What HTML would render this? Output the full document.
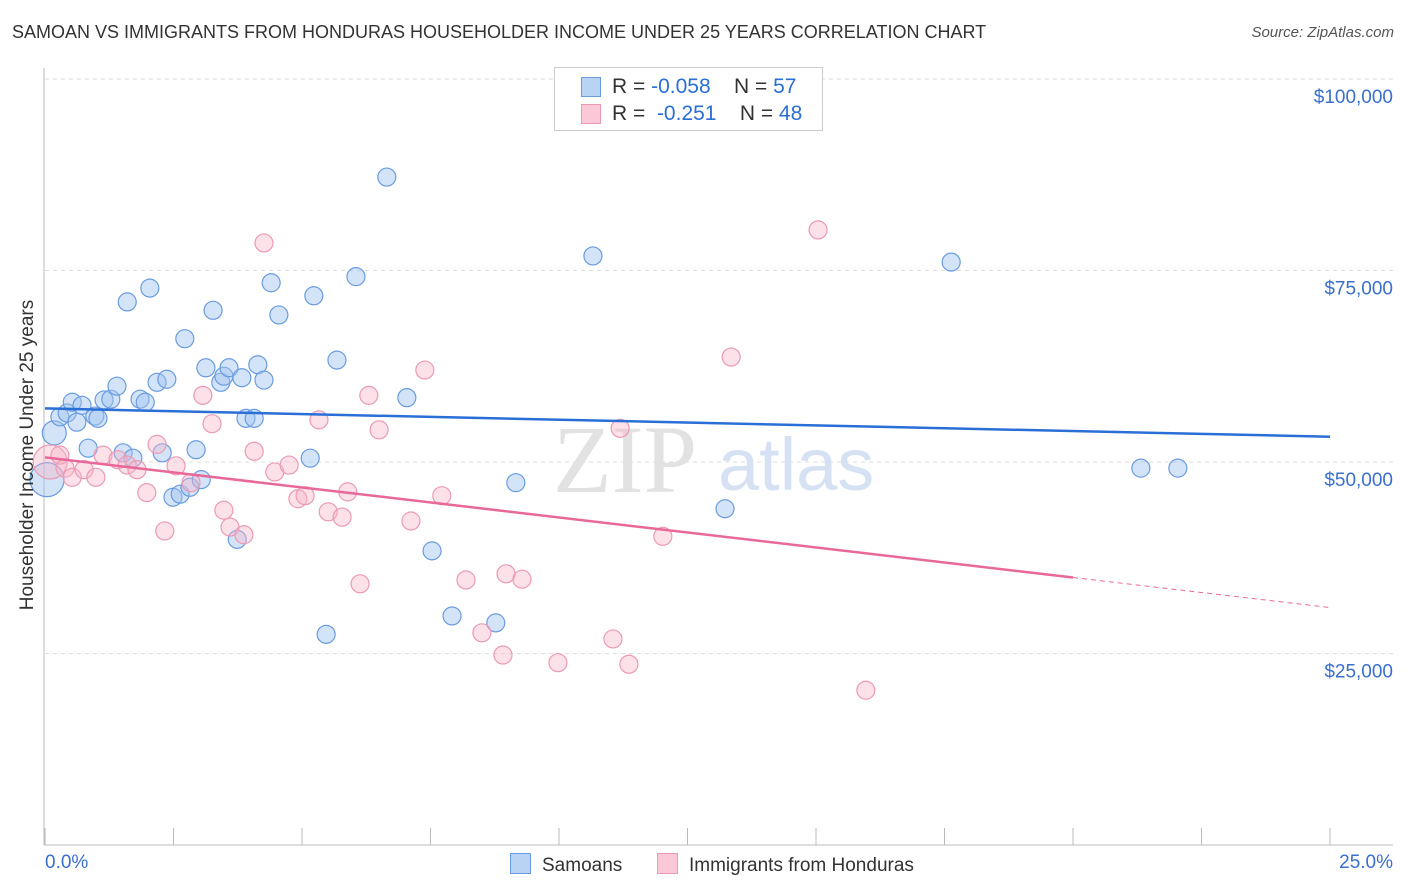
<!DOCTYPE html>
<html><head><meta charset="utf-8"><style>
body{margin:0;background:#fff;font-family:"Liberation Sans",sans-serif;}
#wrap{position:relative;width:1406px;height:892px;overflow:hidden;}
.t{position:absolute;white-space:nowrap;}
</style></head><body>
<div id="wrap">
<div class="t" style="left:12px;top:22px;font-size:18px;color:#333;">SAMOAN VS IMMIGRANTS FROM HONDURAS HOUSEHOLDER INCOME UNDER 25 YEARS CORRELATION CHART</div>
<div class="t" style="right:12px;top:24px;font-size:15px;color:#555;font-style:italic;">Source: ZipAtlas.com</div>
<svg id="svg" width="1406" height="892" style="position:absolute;left:0;top:0"></svg>
</div>
<script>
const xTicks=[0,2.5,5,7.5,10,12.5,15,17.5,20,22.5,25];
const yTicks=[25000,50000,75000,100000];
const yTickLabels=["$25,000","$50,000","$75,000","$100,000"];
const blueX=[0.18,0.04,0.29,0.43,0.53,0.62,0.72,0.97,1.03,0.84,1.15,1.28,1.40,1.52,1.60,1.71,1.85,1.95,2.04,2.18,2.28,2.37,2.49,2.63,2.72,2.82,2.94,3.04,3.13,3.27,3.42,3.48,3.58,3.74,3.83,3.91,4.07,4.14,4.26,4.40,4.55,5.16,5.23,5.47,5.68,6.05,6.65,7.04,7.53,7.92,8.77,9.16,10.66,13.23,17.63,21.32,22.04];
const blueY=[53.8,47.7,55.9,56.4,57.8,55.2,57.4,56.0,55.7,51.8,58.1,58.2,59.9,51.2,70.9,50.5,58.2,57.8,72.7,60.4,51.2,60.8,45.4,45.8,66.1,46.7,51.6,47.7,62.3,69.8,60.4,61.2,62.3,39.9,61.0,55.7,55.7,62.7,60.7,73.4,69.2,50.5,71.7,27.5,63.3,74.2,87.2,58.4,38.4,29.9,29.0,47.3,76.9,43.9,76.1,49.2,49.2];
const pinkX=[0.10,0.29,0.39,0.53,0.76,0.99,1.13,1.42,1.60,1.79,1.98,2.18,2.33,2.55,2.84,3.07,3.25,3.48,3.60,3.87,4.07,4.26,4.47,4.75,4.92,5.06,5.33,5.51,5.78,5.89,6.13,6.30,6.50,7.12,7.39,7.72,8.19,8.50,8.91,8.97,9.28,9.98,11.05,11.19,11.36,12.02,13.35,15.04,15.97];
const pinkY=[50.0,50.9,49.2,48.0,49.0,48.0,50.9,50.3,49.6,49.0,46.0,52.3,41.0,49.5,47.3,58.7,55.0,43.7,41.5,40.5,51.4,78.6,48.7,49.6,45.2,45.6,55.5,43.5,42.8,46.1,34.1,58.7,54.2,42.3,62.0,45.6,34.6,27.7,24.8,35.4,34.7,23.8,26.9,54.4,23.6,40.3,63.7,80.3,20.2];
const blueTrend=[57.0,53.3];
const pinkTrend=[50.6,31.0];
const pinkSolidEnd=20;
const X=v=>45+v*51.4, Y=v=>845-v/25000*191.5, Yk=v=>Y(v*1000);
const s=document.getElementById('svg');const NS='http://www.w3.org/2000/svg';
function mk(t,a,p){const e=document.createElementNS(NS,t);for(const k in a)e.setAttribute(k,a[k]);(p||s).appendChild(e);return e;}
yTicks.forEach((v,i)=>{
 const g=mk('line',{x1:45,x2:1393,y1:Y(v),y2:Y(v),stroke:'#ddd','stroke-dasharray':'4,4'});
 
 
 const t=mk('text',{x:1393,y:Y(v)+24,'text-anchor':'end','font-size':19,fill:'#3a6fd0'});t.textContent=yTickLabels[i];
 
 
});
mk('line',{x1:44,x2:44,y1:68,y2:845,stroke:'#bbb'});
mk('line',{x1:44,x2:1393,y1:845,y2:845,stroke:'#bbb'});
xTicks.forEach(v=>{const l=mk('line',{x1:X(v),x2:X(v),y1:828,y2:845,stroke:'#bbb'});
 
 });
const wm=mk('text',{x:553,y:492,'font-size':96,fill:'#e2e2e2','font-family':'Liberation Serif'});wm.textContent='ZIP';
const wm2=mk('text',{x:718,y:490,'font-size':74,fill:'#d6e2f3'});wm2.textContent='atlas';
function dots(xs,ys,fill,stroke,name){xs.forEach((x,i)=>{const r=(i<2&&name=='blue')?(i==1?17:12):(i==0&&name=='pink'?17:9);
 const c=mk('circle',{cx:X(x),cy:Yk(ys[i]),r:r,fill:fill,stroke:stroke,'stroke-width':1.2});
 
 });}
dots(blueX,blueY,'rgba(160,195,240,0.45)','#6a9ce0','blue');
dots(pinkX,pinkY,'rgba(248,180,200,0.4)','#ec9ab4','pink');
const bl=mk('line',{x1:X(0),x2:X(25),y1:Yk(blueTrend[0]),y2:Yk(blueTrend[1]),stroke:'#2a6fd6','stroke-width':2.5});


const py=x=>pinkTrend[0]+(pinkTrend[1]-pinkTrend[0])*x/25;
const pl=mk('line',{x1:X(0),x2:X(pinkSolidEnd),y1:Yk(py(0)),y2:Yk(py(pinkSolidEnd)),stroke:'#e8689a','stroke-width':2.5});


mk('line',{x1:X(pinkSolidEnd),x2:X(25),y1:Yk(py(pinkSolidEnd)),y2:Yk(py(25)),stroke:'#e8689a','stroke-width':1,'stroke-dasharray':'5,4'});
</script>
<div class="t" style="left:554px;top:67px;width:267px;height:62px;border:1px solid #ccc;background:#fff;">
 <div style="position:absolute;left:26px;top:9px;width:18px;height:18px;background:#b9d3f5;border:1px solid #6a9ce0;"></div>
 <div class="t" style="left:57px;top:7px;font-size:21px;color:#333;">R = <span style="color:#2a6fd6">-0.058</span>&nbsp;&nbsp;&nbsp; N = <span style="color:#2a6fd6">57</span></div>
 <div style="position:absolute;left:26px;top:36px;width:18px;height:18px;background:#fac8d7;border:1px solid #ec9ab4;"></div>
 <div class="t" style="left:57px;top:34px;font-size:21px;color:#333;">R = &nbsp;<span style="color:#2a6fd6">-0.251</span>&nbsp;&nbsp;&nbsp; N = <span style="color:#2a6fd6">48</span></div>
</div>
<div class="t" style="left:-132px;top:444px;transform:rotate(-90deg);font-size:19px;color:#333;width:320px;text-align:center;">Householder Income Under 25 years</div>
<div class="t" style="left:45px;top:852px;font-size:19px;color:#3a6fd0;">0.0%</div>
<div class="t" style="right:13px;top:852px;font-size:19px;color:#3a6fd0;">25.0%</div>
<div class="t" style="left:510px;top:853px;"><span style="display:inline-block;width:19px;height:19px;background:#b9d3f5;border:1px solid #6a9ce0;vertical-align:-3px"></span><span style="font-size:19px;color:#333;margin-left:11px">Samoans</span></div>
<div class="t" style="left:657px;top:853px;"><span style="display:inline-block;width:19px;height:19px;background:#fac8d7;border:1px solid #ec9ab4;vertical-align:-3px"></span><span style="font-size:19px;color:#333;margin-left:11px">Immigrants from Honduras</span></div>
</body></html>
